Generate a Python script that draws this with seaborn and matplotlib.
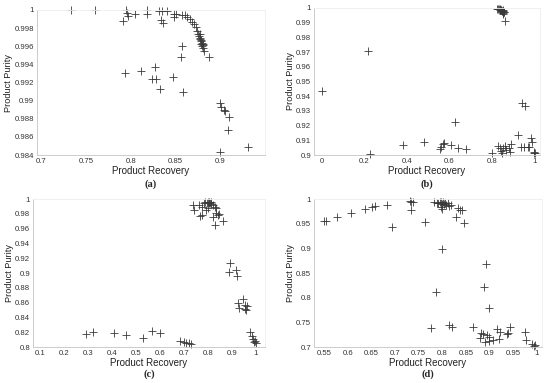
import matplotlib
matplotlib.use("Agg")
import matplotlib.pyplot as plt
import seaborn as sns
import pandas as pd

# panel (a): recovery / purity
a_recovery = [0.733, 0.760, 0.795, 0.796, 0.797, 0.791, 0.805, 0.818, 0.818, 0.832, 0.835, 0.840,
              0.834, 0.836, 0.848, 0.851, 0.848,
              0.8576, 0.860, 0.8631, 0.866, 0.8686, 0.8705, 0.8723, 0.8742, 0.8753, 0.8764, 0.8771,
              0.8779, 0.8786, 0.8797, 0.8808, 0.8815, 0.8768, 0.8775, 0.8782, 0.8790, 0.8801, 0.8806,
              0.8576, 0.8557, 0.887,
              0.793, 0.811, 0.827, 0.824, 0.828, 0.847, 0.833, 0.858,
              0.900, 0.901, 0.904, 0.905, 0.910, 0.909, 0.931, 0.900]
a_purity = [1.0, 1.0, 1.0, 0.9997, 0.9993, 0.9988, 0.9996, 1.0, 0.9996, 0.9999, 0.9999, 0.9999,
            0.9989, 0.9986, 0.9996, 0.9996, 0.9992,
            0.99945, 0.9994, 0.9992, 0.999, 0.9987, 0.9985, 0.9981, 0.9977, 0.9974, 0.9971, 0.9969,
            0.9966, 0.9963, 0.996, 0.9958, 0.9955, 0.9973, 0.9968, 0.9967, 0.9964, 0.9962, 0.9961,
            0.996, 0.9948, 0.9948,
            0.9931, 0.9933, 0.9937, 0.9924, 0.9924, 0.9926, 0.9913, 0.9909,
            0.9897, 0.9893, 0.9890, 0.9889, 0.9882, 0.9868, 0.9849, 0.9843]

# panel (b)
b_recovery = [0.003, 0.216, 0.228, 0.381, 0.481, 0.558, 0.563, 0.570, 0.575, 0.609, 0.625, 0.639,
              0.678, 0.800, 0.830, 0.836, 0.843, 0.848, 0.853, 0.860, 0.866, 0.880, 0.890, 0.885,
              0.922, 0.9375, 0.950, 0.942, 0.953, 0.969, 0.975, 0.984, 0.9875, 0.995, 1.0, 0.998,
              0.825, 0.830, 0.833, 0.836, 0.838, 0.841, 0.843, 0.845, 0.847, 0.850, 0.852, 0.855,
              0.858, 0.850, 0.852, 0.859]
b_purity = [0.9436, 0.9705, 0.9010, 0.9066, 0.9090, 0.9043, 0.9057, 0.9075, 0.9084, 0.9066, 0.9225,
            0.9050, 0.9039, 0.9016, 0.9060, 0.9045, 0.9030, 0.9015, 0.9050, 0.9060, 0.9035, 0.9045,
            0.9075, 0.9020, 0.9136, 0.9057, 0.9057, 0.9357, 0.9330, 0.9052, 0.9057, 0.9114, 0.9090,
            0.9018, 0.9015, 0.9014,
            0.9995, 0.9993, 0.9990, 0.9992, 0.9988, 0.9985, 0.9987, 0.9982, 0.9980, 0.9978, 0.9983,
            0.9975, 0.9972, 0.9965, 0.9958, 0.9909]

# panel (c)
c_recovery = [0.292, 0.320, 0.408, 0.458, 0.528, 0.566, 0.600, 0.683, 0.702, 0.709, 0.720, 0.730,
              0.977, 0.985, 0.989, 0.993, 0.996, 0.999,
              0.892, 0.889, 0.917, 0.922, 0.947, 0.926, 0.929, 0.956, 0.953, 0.958, 0.961,
              0.739, 0.743, 0.764, 0.774, 0.767, 0.774, 0.783, 0.790, 0.795, 0.800, 0.803, 0.806,
              0.809, 0.812, 0.815, 0.822, 0.829, 0.833, 0.836, 0.843, 0.847, 0.822, 0.829, 0.864,
              0.801, 0.792]
c_purity = [0.8172, 0.8203, 0.8190, 0.8163, 0.8122, 0.8217, 0.8190, 0.8077, 0.8063, 0.8054, 0.8050,
            0.8045, 0.8200, 0.8145, 0.8113, 0.8070, 0.8080, 0.8054,
            0.9129, 0.9016, 0.9034, 0.8966, 0.8655, 0.8596, 0.8533, 0.8573, 0.8520, 0.8497, 0.8550,
            0.9919, 0.9851, 0.9919, 0.9887, 0.9770, 0.9783, 0.9941, 0.9960, 0.9950, 0.9965, 0.9945,
            0.9960, 0.9940, 0.9955, 0.9935, 0.9919, 0.9896, 0.9873, 0.9806, 0.9783, 0.9797, 0.9760,
            0.9648, 0.9707, 0.9874, 0.9850]

# panel (d)
d_recovery = [0.550, 0.555, 0.578, 0.608, 0.636, 0.652, 0.657, 0.683, 0.693, 0.732, 0.735, 0.739,
              0.734, 0.763,
              0.783, 0.788, 0.791, 0.795, 0.798, 0.800, 0.802, 0.804, 0.806, 0.808, 0.812, 0.815,
              0.819, 0.797, 0.799,
              0.834, 0.838, 0.841, 0.830, 0.847, 0.799, 0.787,
              0.776, 0.815, 0.820, 0.866, 0.893, 0.889, 0.898,
              0.883, 0.880, 0.887, 0.894, 0.899, 0.890, 0.900, 0.908, 0.915, 0.922, 0.920, 0.936,
              0.940, 0.943, 0.975, 0.977, 0.989, 0.996, 0.994]
d_purity = [0.9553, 0.9560, 0.9628, 0.9709, 0.9797, 0.9844, 0.9865, 0.9878, 0.9424, 0.9959, 0.9932,
            0.9932, 0.9777, 0.9540,
            0.9932, 0.9925, 0.9918, 0.9945, 0.9932, 0.9905, 0.9945, 0.9898, 0.9925, 0.9878, 0.9912,
            0.9864, 0.9885, 0.9844, 0.9790,
            0.9810, 0.9770, 0.9770, 0.9641, 0.9519, 0.8984, 0.8117,
            0.7386, 0.7454, 0.7406, 0.7406, 0.8680, 0.8219, 0.7792,
            0.7284, 0.7190, 0.7260, 0.7237, 0.7200, 0.7102, 0.7122, 0.7135, 0.7373, 0.7305, 0.7170,
            0.7271, 0.7284, 0.7406, 0.7305, 0.7149, 0.7054, 0.7034, 0.7025]

panels = [
    ("(a)", a_recovery, a_purity, (0.695, 0.95), (0.984, 1.0),
     [0.7, 0.75, 0.8, 0.85, 0.9], ["0.7", "0.75", "0.8", "0.85", "0.9"],
     [0.984, 0.986, 0.988, 0.99, 0.992, 0.994, 0.996, 0.998, 1.0],
     ["0.984", "0.986", "0.988", "0.99", "0.992", "0.994", "0.996", "0.998", "1"]),
    ("(b)", b_recovery, b_purity, (-0.035, 1.025), (0.9, 1.0),
     [0, 0.2, 0.4, 0.6, 0.8, 1.0], ["0", "0.2", "0.4", "0.6", "0.8", "1"],
     [0.9, 0.91, 0.92, 0.93, 0.94, 0.95, 0.96, 0.97, 0.98, 0.99, 1.0],
     ["0.9", "0.91", "0.92", "0.93", "0.94", "0.95", "0.96", "0.97", "0.98", "0.99", "1"]),
    ("(c)", c_recovery, c_purity, (0.072, 1.038), (0.8, 1.0),
     [0.1, 0.2, 0.3, 0.4, 0.5, 0.6, 0.7, 0.8, 0.9, 1.0],
     ["0.1", "0.2", "0.3", "0.4", "0.5", "0.6", "0.7", "0.8", "0.9", "1"],
     [0.8, 0.82, 0.84, 0.86, 0.88, 0.9, 0.92, 0.94, 0.96, 0.98, 1.0],
     ["0.8", "0.82", "0.84", "0.86", "0.88", "0.9", "0.92", "0.94", "0.96", "0.98", "1"]),
    ("(d)", d_recovery, d_purity, (0.529, 1.011), (0.7, 1.0),
     [0.55, 0.6, 0.65, 0.7, 0.75, 0.8, 0.85, 0.9, 0.95, 1.0],
     ["0.55", "0.6", "0.65", "0.7", "0.75", "0.8", "0.85", "0.9", "0.95", "1"],
     [0.7, 0.75, 0.8, 0.85, 0.9, 0.95, 1.0],
     ["0.7", "0.75", "0.8", "0.85", "0.9", "0.95", "1"]),
]

# axes boxes in pixels: left, right, top, bottom
W, H = 550, 383
boxes = [(37, 265, 10, 155), (314, 540, 8, 155), (33, 265, 199, 347), (314, 542, 199, 347)]
label_y = [184, 184, 374, 374]

sns.set_style("white")
plt.rcParams["font.family"] = ["Liberation Sans", "DejaVu Sans"]

fig = plt.figure(figsize=(W / 100, H / 100), dpi=100)

for (name, xs, ys, xlim, ylim, xt, xtl, yt, ytl), (l, r, t, b), ly in zip(panels, boxes, label_y):
    ax = fig.add_axes([l / W, 1 - b / H, (r - l) / W, (b - t) / H])
    df = pd.DataFrame({"recovery": xs, "purity": ys})
    sns.scatterplot(data=df, x="recovery", y="purity", marker="+", color="#3a3a3a",
                    s=40, linewidth=0.6, ax=ax, clip_on=False)
    ax.set_xlim(*xlim)
    ax.set_ylim(*ylim)
    ax.set_xticks(xt)
    ax.set_xticklabels(xtl)
    ax.set_yticks(yt)
    ax.set_yticklabels(ytl)
    ax.tick_params(labelsize=5.6, length=1.5, width=0.4, direction="in", pad=2, colors="#333333")
    ax.set_xlabel("Product Recovery", fontsize=7, labelpad=1, color="#222222")
    ax.set_ylabel("Product Purity", fontsize=6.6, labelpad=1, color="#222222")
    for side, sp in ax.spines.items():
        sp.set_linewidth(0.6)
        sp.set_color("#c4c4c4" if side in ("left", "bottom") else "#eeeeee")
    fig.text((l + r) / 2 / W, 1 - ly / H, name, ha="center", va="center",
             fontsize=7.5, fontweight="bold", family=["Liberation Serif", "DejaVu Serif"])

fig.savefig("out.png", dpi=100)
